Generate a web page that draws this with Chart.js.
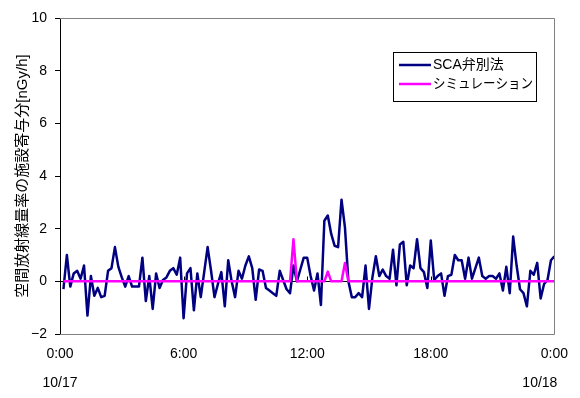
<!DOCTYPE html>
<html>
<head>
<meta charset="utf-8">
<script src="https://cdn.jsdelivr.net/npm/chart.js@4.4.1/dist/chart.umd.min.js"></script>
<style>
  body { margin: 0; background: #fff; }
</style>
</head>
<body>
<canvas id="chart" width="580" height="398"></canvas>
<script>
// 10 minute readings, 0:10 .. 24:00
const minutes = Array.from({ length: 144 }, (_, i) => (i + 1) * 10);

const scaValues = [
  -0.3, 1.0, -0.2, 0.3, 0.4, 0.1, 0.6, -1.3, 0.2, -0.55,
  -0.25, -0.6, -0.55, 0.4, 0.5, 1.3, 0.55, 0.15, -0.2, 0.2,
  -0.2, -0.2, -0.2, 0.9, -0.75, 0.2, -1.05, 0.3, -0.25, 0.05,
  0.15, 0.4, 0.5, 0.25, 0.9, -1.4, 0.3, 0.5, -1.1, 0.3,
  -0.6, 0.35, 1.3, 0.4, -0.6, -0.1, 0.35, -0.95, 0.8, 0.0,
  -0.6, 0.4, 0.1, 0.6, 0.95, 0.5, -0.7, 0.45, 0.4, -0.25,
  -0.35, -0.45, -0.55, 0.4, 0.05, -0.3, -0.45, 0.6, 0.0, 0.45,
  0.9, 0.9, 0.2, -0.35, 0.3, -0.9, 2.3, 2.5, 1.8, 1.35,
  1.3, 3.1, 2.05, 0.0, -0.6, -0.6, -0.45, -0.6, 0.6, -1.05,
  0.15, 0.95, 0.2, 0.45, 0.2, 0.1, 1.2, -0.15, 1.4, 1.5,
  -0.15, 0.6, 0.5, 1.6, 0.5, 0.35, -0.25, 1.55, 0.05, 0.2,
  0.3, -0.55, 0.2, 0.25, 1.0, 0.8, 0.8, 0.1, 0.9, 0.1,
  0.5, 0.9, 0.2, 0.1, 0.2, 0.2, 0.1, 0.3, -0.35, 0.55,
  -0.45, 1.7, 0.6, -0.3, -0.45, -0.95, 0.4, 0.25, 0.7, -0.65,
  -0.1, 0.05, 0.8, 0.95
];

const simValues = [
  0, 0, 0, 0, 0, 0, 0, 0, 0, 0,
  0, 0, 0, 0, 0, 0, 0, 0, 0, 0,
  0, 0, 0, 0, 0, 0, 0, 0, 0, 0,
  0, 0, 0, 0, 0, 0, 0, 0, 0, 0,
  0, 0, 0, 0, 0, 0, 0, 0, 0, 0,
  0, 0, 0, 0, 0, 0, 0, 0, 0, 0,
  0, 0, 0, 0, 0, 0, 0, 1.6, 0, 0,
  0, 0, 0, 0, 0, 0, 0, 0.37, 0, 0,
  0, 0, 0.7, 0, 0, 0, 0, 0, 0, 0,
  0, 0, 0, 0, 0, 0, 0, 0, 0, 0,
  0, 0, 0, 0, 0, 0, 0, 0, 0, 0,
  0, 0, 0, 0, 0, 0, 0, 0, 0, 0,
  0, 0, 0, 0, 0, 0, 0, 0, 0, 0,
  0, 0, 0, 0, 0, 0, 0, 0, 0, 0,
  0, 0, 0, 0
];

const seriesNames = ["SCA弁別法", "シミュレーション"];
const seriesColors = ["#000080", "#FF00FF"];
const timeTicks = [0, 360, 720, 1080, 1440];
const timeLabels = ["0:00", "6:00", "12:00", "18:00", "0:00"];
const dateLabels = ["10/17", "10/18"];
const yTitle = "空間放射線量率の施設寄与分[nGy/h]";

const FONT = "'Liberation Sans', 'Noto Sans CJK JP', sans-serif";

const framePlugin = {
  id: "frame",
  beforeDatasetsDraw(chart) {
    const { ctx, chartArea: a, scales: { x, y } } = chart;
    const y0 = Math.round(y.getPixelForValue(0)) + 0.5;
    ctx.save();
    ctx.strokeStyle = "#000";
    ctx.lineWidth = 1;
    ctx.beginPath();
    ctx.moveTo(a.left, y0);
    ctx.lineTo(a.right, y0);
    for (const t of timeTicks) {
      const px = Math.round(x.getPixelForValue(t)) + 0.5;
      ctx.moveTo(px, y0 - 5);
      ctx.lineTo(px, y0);
    }
    ctx.stroke();
    ctx.restore();
  },
  afterDraw(chart) {
    const { ctx, chartArea: a, scales: { x } } = chart;
    ctx.save();
    // plot area border (top, right, bottom)
    ctx.strokeStyle = "#808080";
    ctx.lineWidth = 1;
    ctx.beginPath();
    ctx.moveTo(a.left, Math.round(a.top) + 0.5);
    ctx.lineTo(Math.round(a.right) + 0.5, Math.round(a.top) + 0.5);
    ctx.lineTo(Math.round(a.right) + 0.5, Math.round(a.bottom) + 0.5);
    ctx.lineTo(a.left, Math.round(a.bottom) + 0.5);
    ctx.stroke();

    // date labels under the time axis
    ctx.fillStyle = "#000";
    ctx.font = "14px " + FONT;
    ctx.textBaseline = "middle";
    ctx.textAlign = "center";
    ctx.fillText(dateLabels[0], x.getPixelForValue(0), 383);
    ctx.textAlign = "right";
    ctx.fillText(dateLabels[1], x.getPixelForValue(1440) + 3, 383);

    // legend box
    const bx = 393.5, by = 52.5, bw = 143, bh = 49;
    ctx.fillStyle = "#fff";
    ctx.fillRect(bx, by, bw, bh);
    ctx.strokeStyle = "#000";
    ctx.strokeRect(bx, by, bw, bh);
    chart.data.datasets.forEach((ds, i) => {
      const ly = 65 + i * 19;
      ctx.strokeStyle = ds.borderColor;
      ctx.lineWidth = 2.5;
      ctx.beginPath();
      ctx.moveTo(399, ly);
      ctx.lineTo(431, ly);
      ctx.stroke();
      ctx.fillStyle = "#000";
      ctx.textAlign = "left";
      ctx.fillText(ds.label, 433, ly, 100);
    });
    ctx.restore();
  }
};

const chart = new Chart(document.getElementById("chart"), {
  type: "line",
  data: {
    datasets: [
      {
        label: seriesNames[0],
        data: minutes.map((m, i) => ({ x: m, y: scaValues[i] })),
        borderColor: seriesColors[0],
        borderWidth: 2.5,
        order: 2
      },
      {
        label: seriesNames[1],
        data: minutes.map((m, i) => ({ x: m, y: simValues[i] })),
        borderColor: seriesColors[1],
        borderWidth: 2.5,
        order: 1
      }
    ]
  },
  options: {
    responsive: false,
    animation: false,
    layout: { padding: { top: 18, right: 17, left: 0, bottom: 0 } },
    elements: { point: { radius: 0 }, line: { tension: 0, borderJoinStyle: "round" } },
    plugins: { legend: { display: false }, tooltip: { enabled: false } },
    scales: {
      x: {
        type: "linear",
        min: 0,
        max: 1440,
        afterFit: (s) => { s.height = 64; },
        afterBuildTicks: (s) => { s.ticks = timeTicks.map(v => ({ value: v })); },
        grid: { display: false, drawTicks: false },
        border: { display: false },
        ticks: {
          autoSkip: false,
          maxRotation: 0,
          padding: 12,
          color: "#000",
          font: { family: FONT, size: 14 },
          callback: (v) => timeLabels[timeTicks.indexOf(v)]
        }
      },
      y: {
        min: -2,
        max: 10,
        afterFit: (s) => { s.width = 60; },
        grid: { drawOnChartArea: false, tickLength: 5, color: "#000" },
        border: { color: "#000" },
        ticks: {
          stepSize: 2,
          padding: 8,
          color: "#000",
          font: { family: FONT, size: 14 },
          callback: (v) => (v < 0 ? "\u2212" + Math.abs(v) : String(v))
        },
        title: {
          display: true,
          text: yTitle,
          color: "#000",
          font: { family: FONT, size: 15 },
          padding: { top: 14, bottom: 0 }
        }
      }
    }
  },
  plugins: [framePlugin]
});
</script>
</body>
</html>
